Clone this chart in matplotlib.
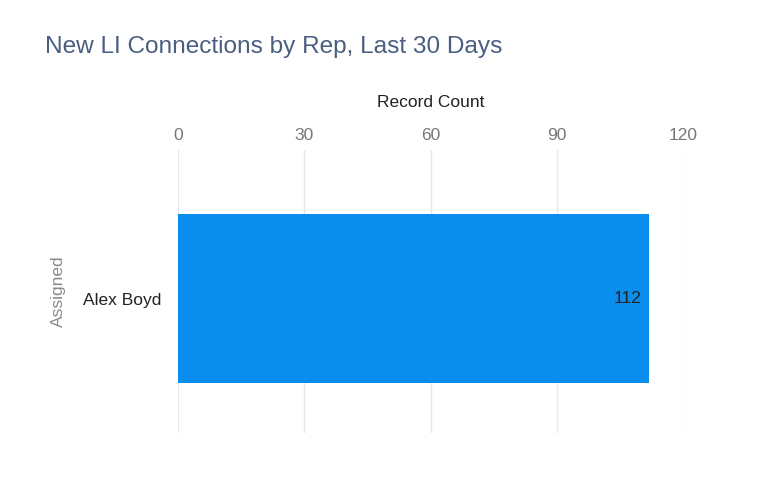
import matplotlib.pyplot as plt

reps = ['Alex Boyd']
counts = [112]
ticks = [0, 30, 60, 90, 120]

plt.rcParams['font.family'] = ['Liberation Sans', 'DejaVu Sans']

fig = plt.figure(figsize=(7.68, 4.84), dpi=100)
ax = fig.add_axes([178 / 768, 1 - 433 / 484, (683 - 178) / 768, (433 - 150) / 484])

bars = ax.barh(reps, counts, height=0.6, color='#0a8ded', zorder=3)
ax.set_xlim(0, 120)
ax.set_ylim(-0.475, 0.525)
ax.set_xticks(ticks)
ax.xaxis.tick_top()
ax.xaxis.set_label_position('top')
ax.set_xlabel('Record Count', fontsize=12.5, color='#222222', labelpad=15)
ax.set_ylabel('Assigned', fontsize=12.5, color='#8a8a8a', labelpad=12)
ax.tick_params(axis='x', length=0, pad=5, labelsize=12.5, labelcolor='#777777')
ax.tick_params(axis='y', length=0, pad=12, labelsize=12.5, labelcolor='#222222')
ax.grid(axis='x', color='#e3e9f0', linewidth=1, zorder=0)
for s in ax.spines.values():
    s.set_visible(False)

for b, v in zip(bars, counts):
    ax.text(v - 1.8, b.get_y() + b.get_height() / 2, str(v), ha='right', va='center',
            fontsize=12.5, color='#222222', zorder=4)

fig.text(45 / 768, 1 - 47 / 484, 'New LI Connections by Rep, Last 30 Days',
         fontsize=17.6, color='#4a5f80', ha='left', va='center')

fig.savefig('out.png', dpi=100, facecolor='white')
